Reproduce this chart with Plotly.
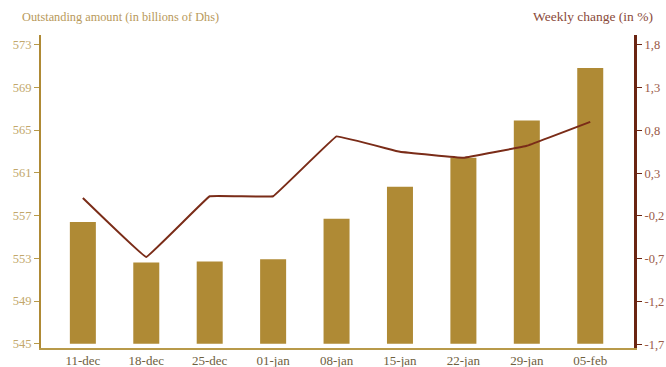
import plotly.graph_objects as go

weeks = ["11-dec", "18-dec", "25-dec", "01-jan", "08-jan", "15-jan", "22-jan", "29-jan", "05-feb"]
outstanding = [556.4, 552.6, 552.7, 552.9, 556.7, 559.7, 562.4, 565.9, 570.8]
weekly_change = [0.01, -0.68, 0.03, 0.03, 0.73, 0.55, 0.48, 0.62, 0.90]

left_ticks = [545, 549, 553, 557, 561, 565, 569, 573]
right_ticks = [-1.7, -1.2, -0.7, -0.2, 0.3, 0.8, 1.3, 1.8]
right_labels = [f"{v:.1f}".replace(".", ",") for v in right_ticks]

GOLD = "#AF8A35"
BROWN = "#7A2C18"
SERIF = "Liberation Serif"

fig = go.Figure()
fig.add_trace(go.Bar(
    x=weeks, y=[v - 545 for v in outstanding], base=545,
    marker=dict(color=GOLD, line=dict(width=0)),
    yaxis="y", showlegend=False,
))
fig.add_trace(go.Scatter(
    x=weeks, y=weekly_change, mode="lines",
    line=dict(color=BROWN, width=2, shape="spline", smoothing=0.12),
    yaxis="y2", showlegend=False,
))

fig.update_layout(
    width=666, height=367,
    margin=dict(l=41, r=32, t=35, b=19),
    paper_bgcolor="white", plot_bgcolor="white",
    bargap=0.59,
    font=dict(family=SERIF, size=12),
    xaxis=dict(
        range=[-0.66, 8.69], showgrid=False, zeroline=False, automargin=False,
        showline=True, linecolor="#B89A4A", linewidth=1.5,
        ticks="", ticklabelstandoff=0,
        tickfont=dict(color="#6E6040", size=13, family=SERIF),
    ),
    yaxis=dict(
        range=[544.6, 573.9], tickvals=left_ticks, showgrid=False, zeroline=False,
        automargin=False,
        showline=True, linecolor=GOLD, linewidth=2,
        ticks="outside", ticklen=5, tickcolor="#B89A4A",
        tickfont=dict(color="#C2A76A", size=12.5, family=SERIF),
    ),
    yaxis2=dict(
        range=[-1.745, 1.916], overlaying="y", side="right",
        tickvals=right_ticks, ticktext=right_labels, automargin=False,
        showgrid=False, zeroline=False,
        showline=True, linecolor="#6A2412", linewidth=3,
        ticks="outside", ticklen=5, tickcolor="#6A2412",
        tickfont=dict(color="#9A5A48", size=12.5, family=SERIF),
    ),
    annotations=[
        dict(text="Outstanding amount (in billions of Dhs)", xref="paper", yref="paper",
             x=-0.036, y=1.0, yshift=9, xanchor="left", yanchor="bottom", showarrow=False,
             font=dict(color="#B8995A", size=12.3, family=SERIF)),
        dict(text="Weekly change (in %)", xref="paper", yref="paper",
             x=1.035, y=1.0, yshift=9, xanchor="right", yanchor="bottom", showarrow=False,
             font=dict(color="#8A4A3A", size=13.5, family=SERIF)),
    ],
)

fig.write_html("out.html")
